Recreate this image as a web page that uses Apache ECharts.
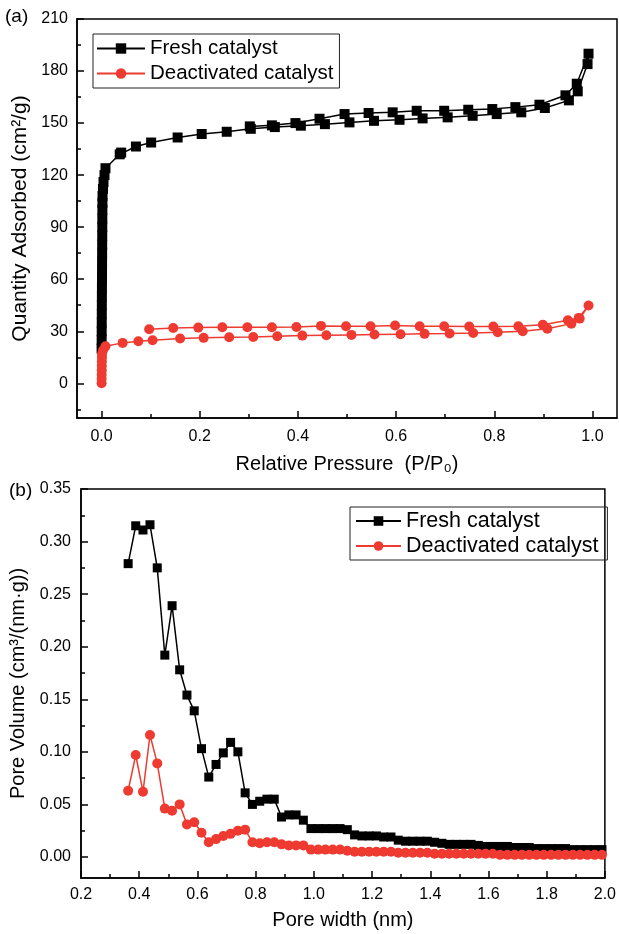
<!DOCTYPE html>
<html>
<head>
<meta charset="utf-8">
<script src="https://cdn.jsdelivr.net/npm/echarts@6/dist/echarts.min.js"></script>
<style>html,body{margin:0;padding:0;background:#fff}#c{width:619px;height:934px}</style>
</head>
<body>
<div id="c"></div>
<script>
// ---------- Panel (a): N2 isotherms ----------
const freshIsoP = [0.0001,0.0002,0.0003,0.0004,0.0005,0.0006,0.0007,0.0008,0.0009,0.0010,0.0011,0.0012,0.0013,0.0014,0.0015,0.0016,0.0017,0.0018,0.002,0.003,0.004,0.006,0.008,0.037,0.040,0.070,0.101,0.155,0.204,0.255,0.304,0.353,0.406,0.455,0.505,0.555,0.607,0.654,0.705,0.756,0.805,0.855,0.903,0.952,0.970,0.990,0.992,
  0.968,0.945,0.892,0.843,0.796,0.747,0.698,0.642,0.593,0.544,0.495,0.444,0.395,0.347,0.302];
const freshIsoQ = [20,25,30,35,40,45,50,55,60,65,70,75,80,85,90,95,100,104,108,112,116,120,124,132,133,136.5,138.8,141.7,143.7,145,146.7,147.7,148.5,149.4,150.4,151.3,151.9,152.7,153.3,154.2,155.2,156.2,158.7,163.1,168.3,184,190,
  172.7,166,160.6,159.2,158.1,157.7,157.1,157.1,156.2,155.8,155.2,152.5,150,148.7,148.1];
const deactIsoP = [0.0001,0.0002,0.0003,0.0004,0.0005,0.0006,0.0008,0.001,0.003,0.008,0.043,0.075,0.104,0.160,0.208,0.260,0.309,0.358,0.409,0.458,0.509,0.556,0.609,0.658,0.709,0.757,0.807,0.858,0.908,0.957,0.974,0.992,
  0.972,0.950,0.899,0.849,0.798,0.749,0.698,0.648,0.598,0.548,0.498,0.447,0.397,0.347,0.297,0.246,0.197,0.146,0.097];
const deactIsoQ = [0,2.5,5,7.5,10,12.5,15,17,19,21.3,23.3,24.2,24.8,25.8,26.2,26.5,26.7,27.1,27.5,27.7,27.9,28.1,28.3,28.5,28.7,29.0,29.4,30,31.5,34.4,37.3,44.8,
  37.7,36.3,33.8,32.9,32.7,32.7,32.9,32.9,33.3,32.9,32.9,33.1,32.5,32.3,32.3,32.3,32.1,31.9,31.2];
const isoXTicks = [0,0.2,0.4,0.6,0.8,1.0];
const isoXMinor = [0.1,0.3,0.5,0.7,0.9];
const isoYTicks = [0,30,60,90,120,150,180,210];
const isoYMinor = [-15,15,45,75,105,135,165,195];

// ---------- Panel (b): pore size distribution ----------
const poreW = [0.362,0.388,0.413,0.437,0.462,0.488,0.513,0.539,0.564,0.589,0.614,0.639,0.664,0.689,0.714,0.739,0.764,0.789,0.814,0.839,0.864,0.889,0.914,0.939,0.964,0.990,
  1.015,1.040,1.065,1.090,1.115,1.140,1.165,1.190,1.215,1.240,1.265,1.290,1.315,1.340,1.365,1.390,1.415,1.440,1.465,1.490,1.515,1.540,1.565,1.590,1.615,1.640,1.665,1.690,1.715,1.740,1.765,1.790,1.815,1.840,1.865,1.890,1.915,1.940,1.965,1.990];
const freshPV = [0.279,0.315,0.311,0.316,0.275,0.192,0.239,0.178,0.154,0.139,0.103,0.076,0.088,0.099,0.109,0.100,0.061,0.050,0.053,0.055,0.055,0.038,0.040,0.040,0.035,0.027,
  0.027,0.027,0.027,0.027,0.026,0.021,0.020,0.020,0.020,0.019,0.019,0.016,0.015,0.015,0.015,0.015,0.014,0.013,0.012,0.012,0.012,0.012,0.011,0.010,0.010,0.010,0.010,0.009,0.009,0.009,0.008,0.008,0.008,0.008,0.008,0.007,0.007,0.007,0.007,0.007];
const deactPV = [0.063,0.097,0.062,0.116,0.089,0.046,0.044,0.050,0.031,0.033,0.023,0.014,0.017,0.020,0.022,0.025,0.026,0.014,0.013,0.014,0.014,0.012,0.011,0.011,0.011,0.007,
  0.007,0.007,0.007,0.007,0.006,0.005,0.005,0.005,0.005,0.005,0.005,0.004,0.004,0.004,0.004,0.004,0.003,0.003,0.003,0.003,0.003,0.003,0.003,0.003,0.003,0.002,0.002,0.002,0.002,0.002,0.002,0.002,0.002,0.002,0.002,0.002,0.002,0.002,0.002,0.002];
const poreXTicks = [0.2,0.4,0.6,0.8,1.0,1.2,1.4,1.6,1.8,2.0];
const poreXMinor = [0.3,0.5,0.7,0.9,1.1,1.3,1.5,1.7,1.9];
const poreYTicks = [0,0.05,0.10,0.15,0.20,0.25,0.30,0.35];
const poreYMinor = [0.025,0.075,0.125,0.175,0.225,0.275,0.325];

const seriesNames = ['Fresh catalyst','Deactivated catalyst'];
const BLACK = '#000000';
const RED = '#ee3a30';
const FONT = 'Liberation Sans, Arial, sans-serif';

const zip = (a, b) => a.map((v, i) => [v, b[i]]);

function majorAxis(opts) {
  return Object.assign({
    type: 'value',
    splitLine: {show: false},
    axisLine: {show: true, onZero: false, lineStyle: {color: BLACK, width: 1.5}},
    axisTick: {show: true, inside: true, length: 7, lineStyle: {color: BLACK, width: 1.5}, customValues: opts.ticks},
    axisLabel: {show: true, color: BLACK, fontSize: 16, fontFamily: FONT, margin: opts.margin, customValues: opts.ticks, formatter: opts.fmt},
    nameLocation: 'middle',
    nameTextStyle: {color: BLACK, fontSize: 20, fontFamily: FONT}
  }, opts.extra);
}
function minorAxis(opts) {
  return Object.assign({
    type: 'value',
    splitLine: {show: false},
    axisLine: {show: false, onZero: false},
    axisTick: {show: true, inside: true, length: 4, lineStyle: {color: BLACK, width: 1.5}, customValues: opts.ticks},
    axisLabel: {show: false}
  }, opts.extra);
}

const option = {
  animation: false,
  backgroundColor: '#fff',
  textStyle: {fontFamily: FONT},
  graphic: [
    {type: 'text', left: 5, top: 7, style: {text: '(a)', fontSize: 19, fontFamily: FONT, fill: BLACK}},
    {type: 'text', left: 9, top: 481, style: {text: '(b)', fontSize: 19, fontFamily: FONT, fill: BLACK}}
  ],
  grid: [
    {left: 77, top: 19, width: 540, height: 399, show: true, borderColor: BLACK, borderWidth: 1.5, containLabel: false},
    {left: 81, top: 489, width: 526, height: 389, show: true, borderColor: BLACK, borderWidth: 1.5, containLabel: false}
  ],
  legend: [
    {data: seriesNames, orient: 'vertical', left: 93, top: 34, itemWidth: 48, itemHeight: 13, itemGap: 4,
     padding: [4, 6, 4, 3], borderColor: '#222', borderWidth: 1, textStyle: {fontSize: 20.5, fontFamily: FONT, color: BLACK}},
    {data: seriesNames, orient: 'vertical', left: 350, top: 507, itemWidth: 45, itemHeight: 12, itemGap: 3,
     padding: [3, 9, 3, 5], borderColor: '#222', borderWidth: 1, textStyle: {fontSize: 21.5, fontFamily: FONT, color: BLACK}}
  ],
  xAxis: [
    majorAxis({ticks: isoXTicks, margin: 11, fmt: v => v.toFixed(1), extra: {gridIndex: 0, position: 'bottom', min: -0.05, max: 1.05, name: 'Relative Pressure  (P/P\u2080)', nameGap: 36}}),
    minorAxis({ticks: isoXMinor, extra: {gridIndex: 0, position: 'bottom', min: -0.05, max: 1.05}}),
    majorAxis({ticks: poreXTicks, margin: 9, fmt: v => v.toFixed(1), extra: {gridIndex: 1, position: 'bottom', min: 0.2, max: 2.0, name: 'Pore width (nm)', nameGap: 32}}),
    minorAxis({ticks: poreXMinor, extra: {gridIndex: 1, position: 'bottom', min: 0.2, max: 2.0}})
  ],
  yAxis: [
    majorAxis({ticks: isoYTicks, margin: 9, fmt: v => String(Math.round(v)), extra: {gridIndex: 0, position: 'left', min: -20, max: 210, name: 'Quantity Adsorbed (cm\u00b2/g)', nameGap: 44, nameTextStyle: {color: BLACK, fontSize: 21, fontFamily: FONT}}}),
    minorAxis({ticks: isoYMinor, extra: {gridIndex: 0, position: 'left', min: -20, max: 210}}),
    majorAxis({ticks: poreYTicks, margin: 10, fmt: v => v.toFixed(2), extra: {gridIndex: 1, position: 'left', min: -0.02, max: 0.35, name: 'Pore Volume (cm\u00b3/(nm\u00b7g))', nameGap: 48}}),
    minorAxis({ticks: poreYMinor, extra: {gridIndex: 1, position: 'left', min: -0.02, max: 0.35}})
  ],
  series: [
    {name: seriesNames[0], type: 'line', xAxisIndex: 0, yAxisIndex: 0, data: zip(freshIsoP, freshIsoQ),
     symbol: 'rect', symbolSize: 10, color: BLACK, lineStyle: {color: BLACK, width: 1.5}, itemStyle: {color: BLACK}},
    {name: seriesNames[1], type: 'line', xAxisIndex: 0, yAxisIndex: 0, data: zip(deactIsoP, deactIsoQ),
     symbol: 'circle', symbolSize: 10, color: RED, lineStyle: {color: RED, width: 1.5}, itemStyle: {color: RED}},
    {name: seriesNames[0], type: 'line', xAxisIndex: 2, yAxisIndex: 2, data: zip(poreW, freshPV),
     symbol: 'rect', symbolSize: 9, color: BLACK, lineStyle: {color: BLACK, width: 1.5}, itemStyle: {color: BLACK}},
    {name: seriesNames[1], type: 'line', xAxisIndex: 2, yAxisIndex: 2, data: zip(poreW, deactPV),
     symbol: 'circle', symbolSize: 10, color: RED, lineStyle: {color: RED, width: 1.5}, itemStyle: {color: RED}}
  ]
};

const chart = echarts.init(document.getElementById('c'), null, {renderer: 'canvas'});
chart.setOption(option);
</script>
</body>
</html>
